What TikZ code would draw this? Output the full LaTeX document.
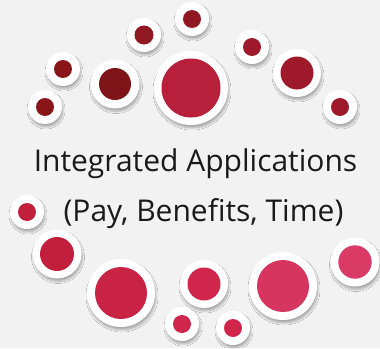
\documentclass[tikz,border=0pt]{standalone}
\usepackage{fontspec}
\setmainfont{Open Sans}
\usetikzlibrary{shadows.blur}
\definecolor{bgGray}{HTML}{F2F2F2}
\definecolor{txtBlack}{HTML}{1A1A1A}
\definecolor{redA}{HTML}{8A1519}
\definecolor{redB}{HTML}{7D1418}
\definecolor{redC}{HTML}{901822}
\definecolor{redD}{HTML}{B71F3B}
\definecolor{redE}{HTML}{9E1A2A}
\definecolor{redF}{HTML}{C11F3C}
\definecolor{redG}{HTML}{C82244}
\definecolor{redH}{HTML}{D1264C}
\definecolor{redI}{HTML}{D63560}
\definecolor{redJ}{HTML}{D93A66}
\begin{document}
\begin{tikzpicture}[x=1pt,y=-1pt,font=\fontsize{30}{36}\selectfont,
    ring/.style={circle,fill=white,inner sep=0pt,
      blur shadow={shadow xshift=1pt,shadow yshift=-3pt,shadow blur radius=2pt,shadow blur steps=8,shadow opacity=30}},
    dot/.style={circle,inner sep=0pt}]
  \fill[bgGray] (0,0) rectangle (380,348);
  \useasboundingbox (0,0) rectangle (380,348);

  % top group: x/y/outer radius/inner radius/colour
  \foreach \x/\y/\R/\r/\c [count=\i] in {45/107/17/9/redA, 63/69/17/9/redA, 115/84/24.5/16/redB,
      144/35/17/9.5/redC, 192/19/17/9/redC, 191/88/37/29.5/redD, 252/47/17/9/redE,
      297/73/24/16.5/redE, 340/107/17/9/redE}{
    \node[ring,minimum size={2*\R*1pt}] (t\i) at (\x,\y) {};
    \node[dot,fill=\c,minimum size={2*\r*1pt}] (td\i) at (t\i) {};
  }

  % bottom group
  \foreach \x/\y/\R/\r/\c [count=\i] in {27/212/17/9/redF, 57/254/24.5/17/redF, 121/293/34/26/redG,
      182/324/17/9/redH, 204/284/24/16.5/redH, 233/328/17/9/redH,
      283/286/34/26/redI, 355/262/24.5/16.7/redJ}{
    \node[ring,minimum size={2*\R*1pt}] (b\i) at (\x,\y) {};
    \node[dot,fill=\c,minimum size={2*\r*1pt}] (bd\i) at (b\i) {};
  }

  \node[anchor=base,text=txtBlack,inner sep=0pt] (title) at (195.5,171) {Integrated Applications};
  \node[anchor=base,text=txtBlack,inner sep=0pt] (apps) at (203.5,221) {(Pay, Benefits, Time)};
\end{tikzpicture}
\end{document}
